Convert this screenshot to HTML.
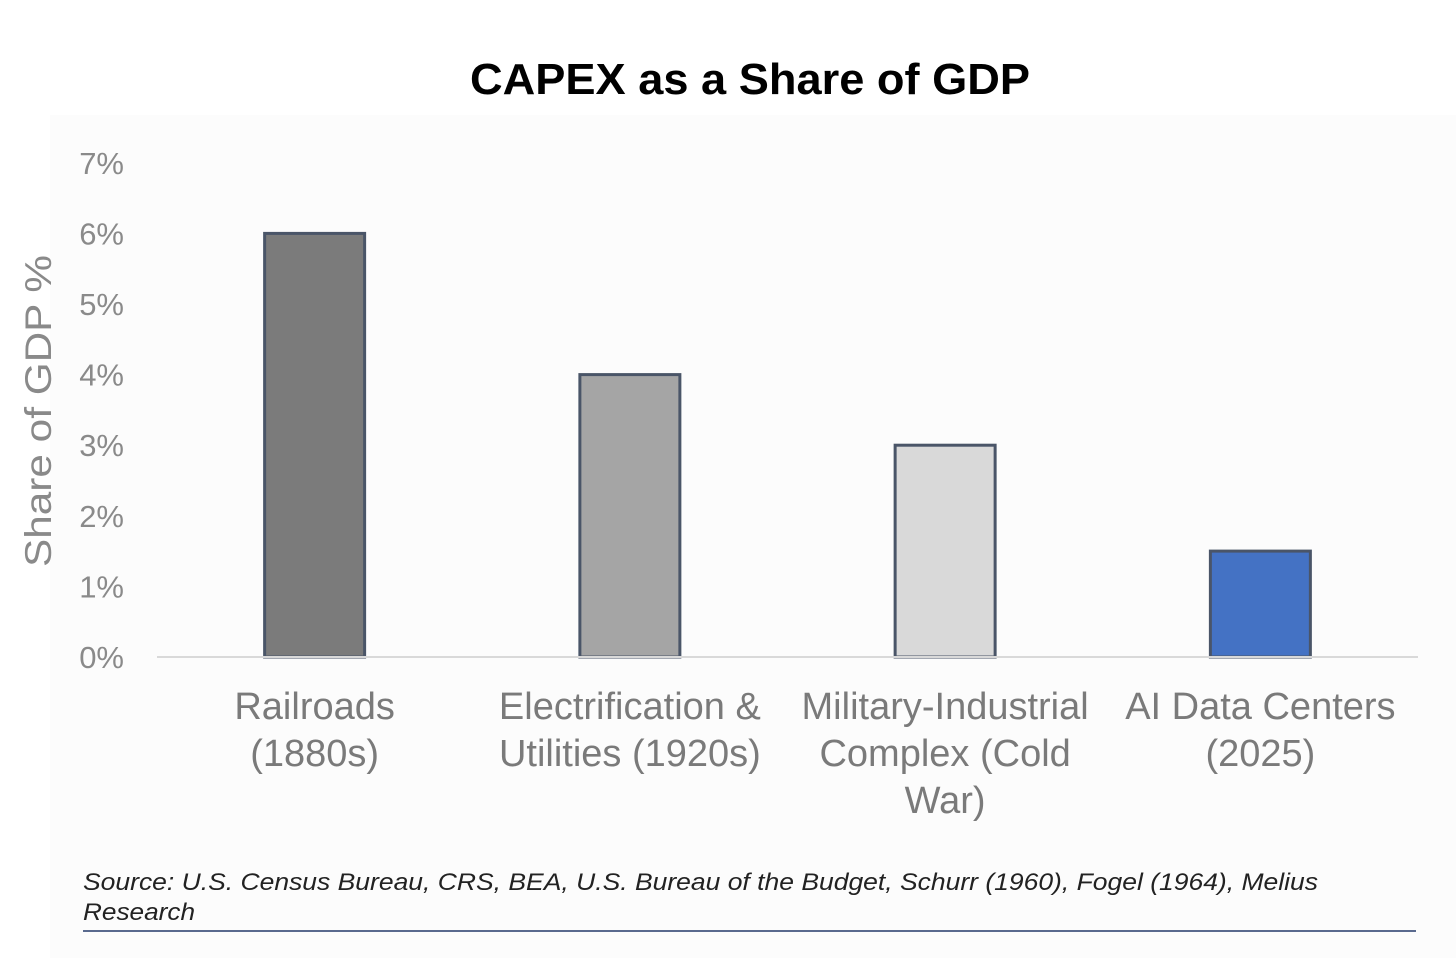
<!DOCTYPE html>
<html><head><meta charset="utf-8"><style>
body{margin:0;width:1456px;height:958px;background:#fff;overflow:hidden;font-family:"Liberation Sans",sans-serif}
</style></head><body>
<svg id="chart" width="1456" height="958" xmlns="http://www.w3.org/2000/svg">
<rect x="50" y="115" width="1406" height="843" fill="#fcfcfc"/>
<text x="750" y="94" text-anchor="middle" font-size="44" font-weight="bold" fill="#000" textLength="560" lengthAdjust="spacingAndGlyphs">CAPEX as a Share of GDP</text>
<text transform="translate(51,411) rotate(-90)" text-anchor="middle" font-size="37" fill="#8a8a8a" textLength="312" lengthAdjust="spacingAndGlyphs">Share of  GDP %</text>
<g id="yticks"></g><g id="bars"></g><g id="xlabels"></g>
<line x1="157" x2="1418" y1="657" y2="657" stroke="#d9d9d9" stroke-width="2"/>
<text font-size="24" font-style="italic" fill="#222"><tspan x="83" y="890" textLength="1235" lengthAdjust="spacingAndGlyphs">Source: U.S. Census Bureau, CRS, BEA, U.S. Bureau of the Budget, Schurr (1960), Fogel (1964), Melius</tspan><tspan x="83" y="920" textLength="112" lengthAdjust="spacingAndGlyphs">Research</tspan></text>
<line x1="83" x2="1416" y1="931" y2="931" stroke="#5a6a8e" stroke-width="2"/>
</svg>
<script>
const categories=[["Railroads","(1880s)"],["Electrification &","Utilities (1920s)"],["Military-Industrial","Complex (Cold","War)"],["AI Data Centers","(2025)"]];
const values=[6,4,3,1.5];
const colors=["#7b7b7b","#a5a5a5","#d9d9d9","#4472c4"];
const tickValues=[0,1,2,3,4,5,6,7];
const ns="http://www.w3.org/2000/svg";
const y0=657,pxPer=70.6,x0=157,band=315.25,barW=100;
const yS=v=>y0-v*pxPer;
const xC=i=>x0+band*(i+0.5);
function mk(t,a,p){const e=document.createElementNS(ns,t);for(const k in a)e.setAttribute(k,a[k]);p.appendChild(e);return e;}
const yt=document.getElementById('yticks');
tickValues.forEach(v=>{const t=mk('text',{x:124,y:yS(v)+11,'text-anchor':'end','font-size':31,fill:'#8a8a8a'},yt);t.textContent=v+'%';

});
const bg=document.getElementById('bars');
values.forEach((v,i)=>{const r=mk('rect',{x:xC(i)-barW/2,y:yS(v),width:barW,height:v*pxPer,fill:colors[i],stroke:'#4a5568','stroke-width':3},bg);

});
const xl=document.getElementById('xlabels');
categories.forEach((lines,i)=>{lines.forEach((s,j)=>{const t=mk('text',{x:xC(i),y:719+j*47,'text-anchor':'middle','font-size':38,fill:'#7a7a7a'},xl);t.textContent=s;

});});
</script>
</body></html>
